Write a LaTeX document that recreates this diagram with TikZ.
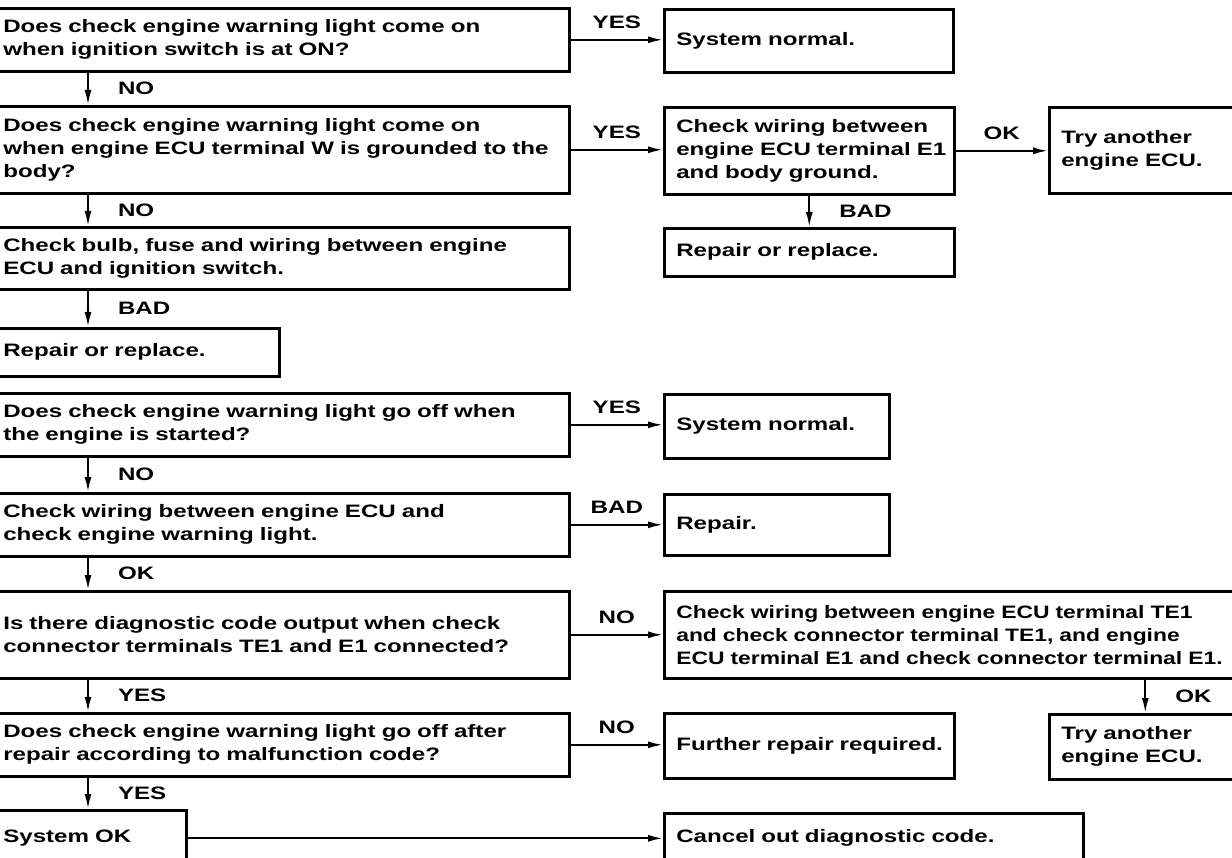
\documentclass[tikz,border=0pt]{standalone}
\usepackage{fontspec}
\setmainfont{Liberation Sans}[FakeStretch=1.34]
\newfontfamily\narrowfont{Liberation Sans}[FakeStretch=1.27]
\usetikzlibrary{arrows.meta}
\newcommand{\oneln}[1]{\mbox{#1}}
\begin{document}
\begin{tikzpicture}[x=1pt,y=-1pt,
  every node/.style={font=\fontsize{18}{23}\selectfont\bfseries},
  box/.style={draw, line width=2.6pt, anchor=north west, align=left, inner ysep=0pt},
  lbox/.style={box, inner xsep=5pt},
  rbox/.style={box, inner xsep=12pt},
  arr/.style={line width=2pt, -{Latex[length=15pt,width=7pt]}},
  vlab/.style={midway, anchor=west, inner sep=0pt, xshift=29pt},
  hlab/.style={midway, above=10pt, inner sep=0pt}]
\useasboundingbox (0,0) rectangle (1232,858);
\fill[white] (0,0) rectangle (1232,858);
\clip (0,0) rectangle (1232,858);
\coordinate (colx) at (88,0);

% left column
\node[lbox, minimum width=571pt, text width=561pt, minimum height=63pt] (q1) at (-3,7)
  {\oneln{Does check engine warning light come on}\\\oneln{when ignition switch is at ON?}};
\node[lbox, minimum width=571pt, text width=561pt, minimum height=87pt] (q2) at (-3,105)
  {\oneln{Does check engine warning light come on}\\\oneln{when engine ECU terminal W is grounded to the}\\\oneln{body?}};
\node[lbox, minimum width=571pt, text width=561pt, minimum height=62pt] (cb) at (-3,226)
  {\oneln{Check bulb, fuse and wiring between engine}\\\oneln{ECU and ignition switch.}};
\node[lbox, minimum width=281pt, text width=271pt, minimum height=48pt] (rl) at (-3,327)
  {\oneln{Repair or replace.}};
\node[lbox, minimum width=571pt, text width=561pt, minimum height=63pt] (q3) at (-3,392)
  {\oneln{Does check engine warning light go off when}\\\oneln{the engine is started?}};
\node[lbox, minimum width=571pt, text width=561pt, minimum height=63pt] (q4) at (-3,492)
  {\oneln{Check wiring between engine ECU and}\\\oneln{check engine warning light.}};
\node[lbox, minimum width=571pt, text width=561pt, minimum height=87pt] (q5) at (-3,590)
  {\oneln{Is there diagnostic code output when check}\\\oneln{connector terminals TE1 and E1 connected?}};
\node[lbox, minimum width=571pt, text width=561pt, minimum height=63pt] (q6) at (-3,712)
  {\oneln{Does check engine warning light go off after}\\\oneln{repair according to malfunction code?}};
\node[lbox, minimum width=188pt, text width=178pt, minimum height=56pt] (sok) at (-3,809)
  {\oneln{System OK}};

% right column
\node[rbox, minimum width=289pt, text width=265pt, minimum height=63pt] (sn1) at (663,8)
  {\oneln{System normal.}};
\node[rbox, minimum width=290pt, text width=266pt, minimum height=87pt] (cw1) at (663,106)
  {\oneln{Check wiring between}\\\oneln{engine ECU terminal E1}\\\oneln{and body ground.}};
\node[rbox, minimum width=192pt, text width=168pt, minimum height=86pt] (ta1) at (1048,106)
  {\oneln{Try another}\\\oneln{engine ECU.}};
\node[rbox, minimum width=290pt, text width=266pt, minimum height=48pt] (rr1) at (663,227)
  {\oneln{Repair or replace.}};
\node[rbox, minimum width=225pt, text width=201pt, minimum height=64pt] (sn2) at (663,393)
  {\oneln{System normal.}};
\node[rbox, minimum width=225pt, text width=201pt, minimum height=61pt] (rp) at (663,493)
  {\oneln{Repair.}};
\node[rbox, minimum width=577pt, text width=553pt, minimum height=87pt,
      font=\fontsize{18}{23}\narrowfont\bfseries] (cwte) at (663,590)
  {\oneln{Check wiring between engine ECU terminal TE1}\\\oneln{and check connector terminal TE1, and engine}\\\oneln{ECU terminal E1 and check connector terminal E1.}};
\node[rbox, minimum width=192pt, text width=168pt, minimum height=65pt] (ta2) at (1048,713)
  {\oneln{Try another}\\\oneln{engine ECU.}};
\node[rbox, minimum width=290pt, text width=266pt, minimum height=65pt] (fr) at (663,712)
  {\oneln{Further repair required.}};
\node[rbox, minimum width=419pt, text width=395pt, minimum height=50pt] (co) at (663,812)
  {\oneln{Cancel out diagnostic code.}};

% connectors
\draw[arr] (q1.east) -- node[hlab]{YES} (q1.east -| sn1.west);
\draw[arr] (q1.south -| colx) -- node[vlab]{NO} (q2.north -| colx);
\draw[arr] (q2.east) -- node[hlab]{YES} (q2.east -| cw1.west);
\draw[arr] (cw1.east) -- node[hlab]{OK} (cw1.east -| ta1.west);
\draw[arr] (cw1.south) -- node[vlab]{BAD} (rr1.north);
\draw[arr] (q2.south -| colx) -- node[vlab]{NO} (cb.north -| colx);
\draw[arr] (cb.south -| colx) -- node[vlab]{BAD} (rl.north -| colx);
\draw[arr] (q3.east) -- node[hlab]{YES} (q3.east -| sn2.west);
\draw[arr] (q3.south -| colx) -- node[vlab]{NO} (q4.north -| colx);
\draw[arr] (q4.east) -- node[hlab]{BAD} (q4.east -| rp.west);
\draw[arr] (q4.south -| colx) -- node[vlab]{OK} (q5.north -| colx);
\draw[arr] (q5.east) -- node[hlab]{NO} (q5.east -| cwte.west);
\draw[arr] (cwte.south -| ta2.north) -- node[vlab]{OK} (ta2.north);
\draw[arr] (q5.south -| colx) -- node[vlab]{YES} (q6.north -| colx);
\draw[arr] (q6.east) -- node[hlab]{NO} (q6.east -| fr.west);
\draw[arr] (q6.south -| colx) -- node[vlab]{YES} (sok.north -| colx);
\draw[arr] (sok.east) -- (sok.east -| co.west);
\end{tikzpicture}
\end{document}
